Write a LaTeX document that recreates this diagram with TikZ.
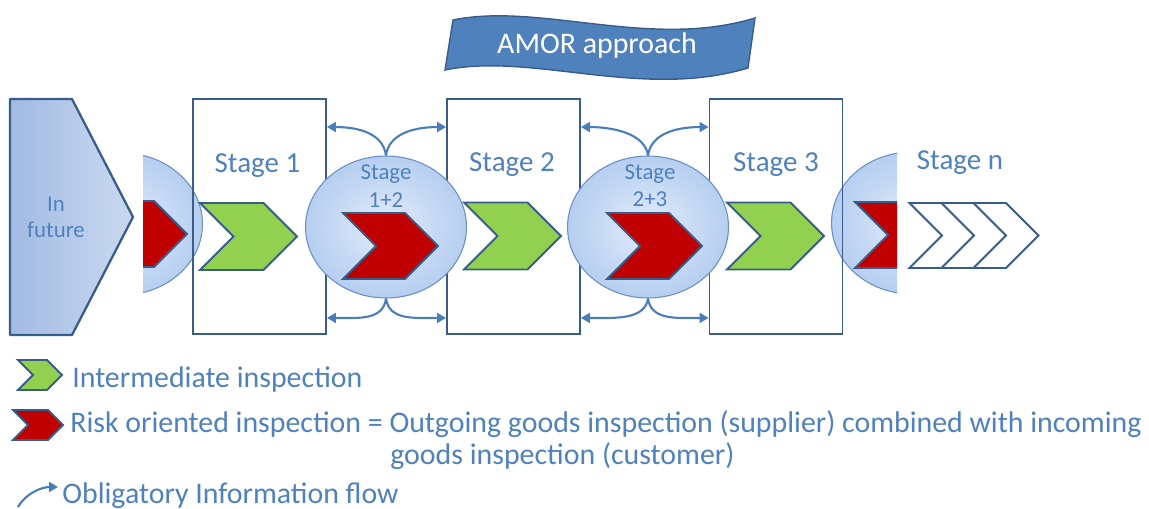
\documentclass[tikz,border=0pt]{standalone}
\usepackage{fontspec}
\setmainfont{Carlito}
\usetikzlibrary{shapes.symbols,shapes.geometric,arrows.meta}

\definecolor{txtblue}{HTML}{4F81BD}
\definecolor{linecol}{HTML}{385D8A}
\definecolor{flowcol}{HTML}{4A7EBB}
\definecolor{chevgreen}{HTML}{92D050}
\definecolor{chevred}{HTML}{C00000}
\definecolor{lensin}{HTML}{E2ECFA}
\definecolor{lensout}{HTML}{B6CEF0}
\definecolor{lensrim}{HTML}{6A8FC4}
\definecolor{futleft}{HTML}{A2BAE2}
\definecolor{futright}{HTML}{CAD9F0}

\tikzset{
  stagebox/.style={draw=linecol, line width=1.1pt, minimum width=2.66cm, minimum height=4.7cm, inner sep=0},
  lens/.style={ellipse, draw=lensrim, line width=0.6pt, inner color=lensin, outer color=lensout,
    minimum width=3.22cm, minimum height=2.84cm, inner sep=0},
  chev/.style={signal, signal from=west, signal to=east, signal pointer angle=90,
    draw=linecol, line width=1.1pt, inner sep=0},
  goodchev/.style={chev, fill=chevgreen, minimum width=1.94cm, minimum height=1.34cm},
  riskchev/.style={chev, fill=chevred, minimum width=1.9cm, minimum height=1.32cm},
  openchev/.style={chev, fill=white, minimum width=1.2cm, minimum height=1.3cm},
  stagelbl/.style={text=txtblue, font=\fontsize{16.5}{20}\selectfont, anchor=base},
  lenslbl/.style={text=txtblue, font=\fontsize{13}{15}\selectfont, anchor=base},
  legend/.style={text=txtblue, font=\fontsize{17}{20}\selectfont, anchor=base west, inner sep=0},
  flow/.style={draw=flowcol, line width=1.2pt, -{Triangle[length=1.8mm,width=2mm]}},
}

\begin{document}
\begin{tikzpicture}[x=0.02cm,y=-0.02cm]
\useasboundingbox (0,0) rectangle (1149,509);

% title banner
\draw[fill=txtblue, draw=linecol, line width=0.8pt] (453,20) .. controls (540,2) and (650,50) .. (755,18)
  -- (748,68) .. controls (642,100) and (532,52) .. (445,70) -- cycle;
\node[text=white, font=\fontsize{17}{20}\selectfont, anchor=base] (amor) at (597,54) {AMOR approach};

% in future
\draw[left color=futleft, right color=futright, draw=linecol, line width=1.3pt, line join=round]
  (10,99) -- (72,99) -- (133,217) -- (72,335) -- (10,335) -- cycle;
\node[lenslbl] (futa) at (56,212) {In};
\node[lenslbl] (futb) at (56,238) {future};

% cut lenses at both ends
\begin{scope}
\clip (143,100) rectangle (300,320);
\node[lens] (e01) at (122,224) {};
\node[riskchev] (r01) at (139.5,234) {};
\end{scope}
\begin{scope}
\clip (800,100) rectangle (897,320);
\node[lens] (e3n) at (912,223) {};
\node[riskchev] (r3n) at (902.5,235) {};
\end{scope}

\foreach \i/\x in {1/259.5, 2/513.5, 3/776}
  \node[stagebox] (s\i) at (\x,216.5) {};

\node[lens] (e12) at (386,227) {};
\node[lens] (e23) at (648,227) {};
\node[riskchev] (r12) at (390.5,246) {};
\node[riskchev] (r23) at (654.5,246) {};

\node[goodchev] (g1) at (248.5,236.5) {};
\node[goodchev] (g2) at (512.5,236) {};
\node[goodchev] (g3) at (775.5,236) {};

\foreach \i/\x in {1/942, 2/974, 3/1006}
  \node[openchev] (o\i) at (\x,235.5) {};

\node[stagelbl] (t1) at (257.5,173) {Stage 1};
\node[stagelbl] (t2) at (512,172) {Stage 2};
\node[stagelbl] (t3) at (776,172) {Stage 3};
\node[stagelbl] (tn) at (960,170) {Stage n};
\node[lenslbl] (l12a) at (386,180) {Stage};
\node[lenslbl] (l12b) at (386,208) {1+2};
\node[lenslbl] (l23a) at (650,180) {Stage};
\node[lenslbl] (l23b) at (650,207) {2+3};

% information flow
\foreach \e/\l/\r in {e12/s1/s2, e23/s2/s3} {
  \draw[flow] (\e.north) .. controls +(-3,-22) and +(32,0) .. ([yshift=-0.58cm]\l.north east);
  \draw[flow] (\e.north) .. controls +(3,-22) and +(-32,0) .. ([yshift=-0.58cm]\r.north west);
  \draw[flow] (\e.south) .. controls +(-3,22) and +(32,0) .. ([yshift=0.34cm]\l.south east);
  \draw[flow] (\e.south) .. controls +(3,22) and +(-32,0) .. ([yshift=0.34cm]\r.south west);
}

% legend
\node[chev, fill=chevgreen, minimum width=0.88cm, minimum height=0.6cm] (kg) at (40,375) {};
\node[legend] (kgt) at (72,388) {Intermediate inspection};
\node[chev, fill=chevred, minimum width=1cm, minimum height=0.6cm] (kr) at (38,425) {};
\node[legend] (krt) at (70,433) {Risk oriented inspection = Outgoing goods inspection (supplier) combined with incoming};
\node[legend] (krt2) at (390,465) {goods inspection (customer)};
\coordinate (fa) at (18,507);
\coordinate (fb) at (58,487);
\draw[flow] (fa) .. controls +(8,-14) and +(-16,0) .. (fb);
\node[legend] (kft) at (62,503) {Obligatory Information flow};
\end{tikzpicture}
\end{document}
